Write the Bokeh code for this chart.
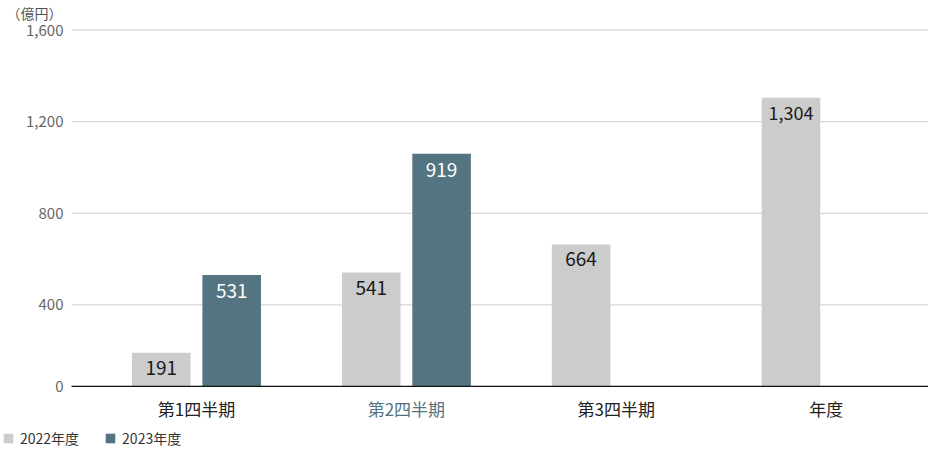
from bokeh.plotting import figure
from bokeh.models import ColumnDataSource, Range1d, LabelSet, Label, Legend, LegendItem
from bokeh.core.properties import value
from bokeh.embed import file_html
from bokeh.resources import INLINE

# ---- data ----
categories = ["第1四半期", "第2四半期", "第3四半期", "年度"]
series_names = ["2022年度", "2023年度"]
fy2022_values = [191, 541, 664, 1304]
fy2022_labels = ["191", "541", "664", "1,304"]
fy2023_values = [531, 1060]          # bar heights as drawn in the picture
fy2023_labels = ["531", "919"]
y_ticks = [400, 800, 1200, 1600]
y_tick_labels = ["400", "800", "1,200", "1,600"]
zero_label = "0"
unit_label = "（億円）"

FONT = "Noto Sans CJK JP"
GREY = "#cccccc"
TEAL = "#557481"
Y_FLOOR = 44        # value where the drawn baseline sits
X_LEFT = -0.5955    # left end of the plotting area (gridlines start here)

W, H = 928, 448
p = figure(width=W, height=H, output_backend="svg", toolbar_location=None,
           x_range=Range1d(-0.9338, 3.4874), y_range=Range1d(-227, 1729),
           min_border=0, min_border_left=0, min_border_right=0,
           min_border_top=0, min_border_bottom=0)
p.outline_line_color = None
p.axis.visible = False
p.grid.visible = False
p.background_fill_color = "white"
p.border_fill_color = "white"

# gridlines
p.segment(x0=X_LEFT, x1=p.x_range.end, y0=y_ticks, y1=y_ticks,
          line_color="#cccccc", line_width=1)

off = 0.1677
bw = 0.279
src22 = ColumnDataSource(dict(x=[i - off for i in range(len(fy2022_values))],
                              top=fy2022_values, label=fy2022_labels,
                              size=["19px" if len(s) < 4 else "18px" for s in fy2022_labels]))
src23 = ColumnDataSource(dict(x=[i + off for i in range(len(fy2023_values))],
                              top=fy2023_values, label=fy2023_labels,
                              size=["19px" for s in fy2023_labels]))

r22 = p.vbar(x="x", top="top", bottom=Y_FLOOR, width=bw, source=src22,
             fill_color=GREY, line_color=None)
r23 = p.vbar(x="x", top="top", bottom=Y_FLOOR, width=bw, source=src23,
             fill_color=TEAL, line_color=None)

# baseline
p.segment(x0=[X_LEFT], x1=[p.x_range.end], y0=[Y_FLOOR], y1=[Y_FLOOR],
          line_color="#111111", line_width=1.2)

p.add_layout(LabelSet(x="x", y="top", text="label", source=src22, y_offset=-15,
                      text_align="center", text_baseline="middle",
                      text_font=value(FONT), text_font_size="size", text_color="#1a1a1a"))
p.add_layout(LabelSet(x="x", y="top", text="label", source=src23, y_offset=-16,
                      text_align="center", text_baseline="middle",
                      text_font=value(FONT), text_font_size="size", text_color="white"))

# y tick labels
ysrc = ColumnDataSource(dict(y=[Y_FLOOR] + y_ticks, text=[zero_label] + y_tick_labels))
p.add_layout(LabelSet(x=X_LEFT, y="y", text="text", source=ysrc, x_offset=-8,
                      text_align="right", text_baseline="middle",
                      text_font=value(FONT), text_font_size="15px", text_color="#666666"))

# category labels
cat_src = ColumnDataSource(dict(x=list(range(len(categories))), text=categories,
                                color=["#222222", TEAL, "#222222", "#222222"]))
p.add_layout(LabelSet(x="x", y=Y_FLOOR, text="text", source=cat_src, y_offset=-22,
                      text_align="center", text_baseline="middle",
                      text_font=value(FONT), text_font_size="17px", text_color="color"))

# unit label
p.add_layout(Label(x=6, y=H - 12, x_units="screen", y_units="screen", text=unit_label,
                   text_font=FONT, text_font_size="14px", text_color="#555555",
                   text_baseline="middle", text_align="left"))

legend = Legend(items=[LegendItem(label=series_names[0], renderers=[r22]),
                       LegendItem(label=series_names[1], renderers=[r23])],
                location=(2, 0), orientation="horizontal",
                glyph_width=12, glyph_height=12, label_height=12,
                label_standoff=6, spacing=25, padding=0, margin=0,
                border_line_color=None, background_fill_alpha=0,
                label_text_font=FONT, label_text_font_size="14px",
                label_text_color="#333333", label_text_baseline="middle")
p.add_layout(legend, "center")

open("out.html", "w").write(file_html(p, INLINE))
